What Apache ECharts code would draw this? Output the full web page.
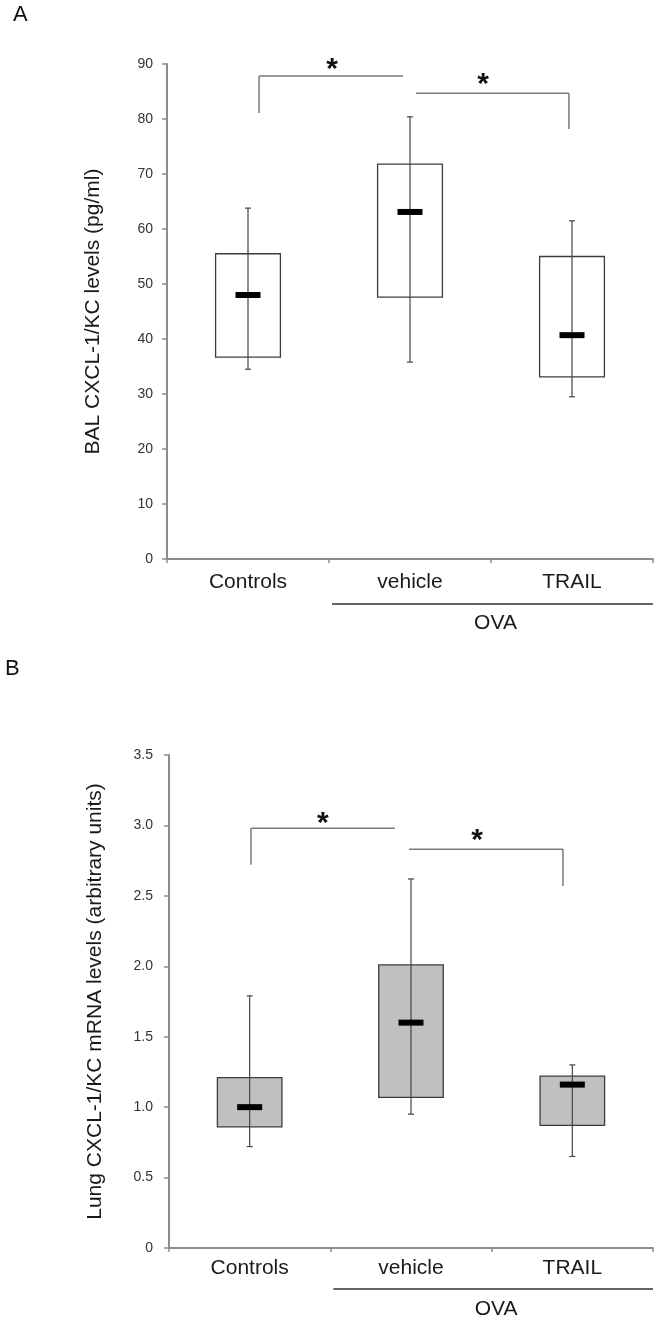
<!DOCTYPE html>
<html><head><meta charset="utf-8">
<script src="https://cdn.jsdelivr.net/npm/echarts@6/dist/echarts.min.js"></script>
<style>html,body{margin:0;padding:0;background:#fff}#c{width:660px;height:1324px}</style>
</head><body><div id="c"></div>
<script>
// ---- data ----
const categories = ['Controls', 'vehicle', 'TRAIL'];
const groupLabel = 'OVA';
const groupSpan = [1, 2]; // category indices covered by the OVA group
// Panel A – BAL CXCL-1/KC (pg/ml): [low, q1, median, q3, high]
const balStats = [
  [34.5, 36.7, 48.0, 55.5, 63.8],
  [35.8, 47.6, 63.1, 71.8, 80.4],
  [29.5, 33.1, 40.7, 55.0, 61.5]
];
const balTicks = ['0', '10', '20', '30', '40', '50', '60', '70', '80', '90'];
// Panel B – Lung CXCL-1/KC mRNA (arbitrary units)
const lungStats = [
  [0.72, 0.86, 1.00, 1.21, 1.79],
  [0.95, 1.07, 1.60, 2.01, 2.62],
  [0.65, 0.87, 1.16, 1.22, 1.30]
];
const lungTicks = ['0', '0.5', '1.0', '1.5', '2.0', '2.5', '3.0', '3.5'];
// significance brackets: [xStart, xEnd, yLine, yLeftDrop, yRightDrop] (x in category units, 0 = Controls)
const balBrackets = [[0.068, 0.957, 87.8, 81.1, null], [1.037, 1.981, 84.7, null, 78.2]];
const balStars = [[0.519, 90.2], [1.451, 87.5]];
const lungBrackets = [[0.008, 0.900, 2.98, 2.72, null], [0.988, 1.942, 2.83, null, 2.57]];
const lungStars = [[0.454, 3.06], [1.410, 2.94]];

// ---- rendering ----
const FONT = 'Liberation Sans, Arial, sans-serif';
const chart = echarts.init(document.getElementById('c'), null, {renderer: 'canvas'});

function boxRenderer(fill) {
  return function (params, api) {
    const i = api.value(0);
    const lo = api.coord([i, api.value(1)]);
    const q1 = api.coord([i, api.value(2)]);
    const md = api.coord([i, api.value(3)]);
    const q3 = api.coord([i, api.value(4)]);
    const hi = api.coord([i, api.value(5)]);
    const band = api.size([1, 0])[0];
    const bw = band * 0.4;
    const cx = lo[0];
    const cap = 3;
    return {
      type: 'group', children: [
        {type: 'rect', shape: {x: cx - bw / 2, y: q3[1], width: bw, height: q1[1] - q3[1]},
          style: {fill: fill, stroke: '#3c3c3c', lineWidth: 1.3}},
        {type: 'line', shape: {x1: cx, y1: hi[1], x2: cx, y2: lo[1]}, style: {stroke: '#444', lineWidth: 1.2}},
        {type: 'line', shape: {x1: cx - cap, y1: hi[1], x2: cx + cap, y2: hi[1]}, style: {stroke: '#444', lineWidth: 1.2}},
        {type: 'line', shape: {x1: cx - cap, y1: lo[1], x2: cx + cap, y2: lo[1]}, style: {stroke: '#444', lineWidth: 1.2}},
        {type: 'rect', shape: {x: cx - 12.5, y: md[1] - 3, width: 25, height: 6}, style: {fill: '#000'}}
      ]
    };
  };
}

function bracketRenderer(brackets) {
  return function (params, api) {
    const b = brackets[params.dataIndex];
    const band = api.size([1, 0])[0];
    const x0 = api.coord([0, b[2]])[0];
    const xa = x0 + b[0] * band, xb = x0 + b[1] * band;
    const yl = api.coord([0, b[2]])[1];
    const ch = [{type: 'line', shape: {x1: xa, y1: yl, x2: xb, y2: yl}, style: {stroke: '#7a7a7a', lineWidth: 1.5}}];
    if (b[3] != null) {
      const yd = api.coord([0, b[3]])[1];
      ch.push({type: 'line', shape: {x1: xa, y1: yl, x2: xa, y2: yd}, style: {stroke: '#7a7a7a', lineWidth: 1.5}});
    }
    if (b[4] != null) {
      const yd = api.coord([0, b[4]])[1];
      ch.push({type: 'line', shape: {x1: xb, y1: yl, x2: xb, y2: yd}, style: {stroke: '#7a7a7a', lineWidth: 1.5}});
    }
    return {type: 'group', children: ch};
  };
}

function starRenderer(stars) {
  return function (params, api) {
    const s = stars[params.dataIndex];
    const band = api.size([1, 0])[0];
    const p = api.coord([0, s[1]]);
    return {type: 'text', style: {text: '*', x: p[0] + s[0] * band, y: p[1] + 7, align: 'center', verticalAlign: 'middle',
      font: 'bold 30px ' + FONT, fill: '#111'}};
  };
}

function groupRenderer(lineOff, textOff) {
  return function (params, api) {
    const band = api.size([1, 0])[0];
    const a = api.coord([groupSpan[0], 0]);
    const b = api.coord([groupSpan[1], 0]);
    const xa = a[0] - band / 2 + 3, xb = b[0] + band / 2;
    return {type: 'group', children: [
      {type: 'line', shape: {x1: xa, y1: a[1] + lineOff, x2: xb, y2: a[1] + lineOff}, style: {stroke: '#333', lineWidth: 1.3}},
      {type: 'text', style: {text: groupLabel, x: (xa + xb) / 2 + 3, y: a[1] + textOff, align: 'center', verticalAlign: 'middle',
        font: '21px ' + FONT, fill: '#1a1a1a'}}
    ]};
  };
}

const axisLineStyle = {color: '#8c8c8c', width: 2};
function xAxis(gi, margin) {
  return {
    type: 'category', gridIndex: gi, data: categories, boundaryGap: true,
    axisLine: {lineStyle: axisLineStyle}, axisTick: {show: true, length: 4, lineStyle: {color: '#8c8c8c', width: 1.5}},
    axisLabel: {fontFamily: FONT, fontSize: 21, color: '#1a1a1a', margin: margin, interval: 0},
    splitLine: {show: false}
  };
}
function yAxis(gi, max, interval, ticks, name, margin) {
  return {
    type: 'value', gridIndex: gi, min: 0, max: max, interval: interval,
    name: name, nameLocation: 'middle', nameGap: 63, nameRotate: 90,
    nameTextStyle: {fontFamily: FONT, fontSize: 21, color: '#1a1a1a'},
    axisLine: {show: true, lineStyle: axisLineStyle},
    axisTick: {show: true, length: 5, lineStyle: {color: '#8c8c8c', width: 1.5}},
    axisLabel: {fontFamily: FONT, fontSize: 14, color: '#333', margin: margin,
      formatter: v => ticks[Math.round(v / interval)]},
    splitLine: {show: false}
  };
}

const option = {
  backgroundColor: '#fff',
  animation: false,
  title: [
    {text: 'A', left: 13, top: 4, padding: 0, textStyle: {fontFamily: FONT, fontSize: 22, fontWeight: 'normal', color: '#111'}},
    {text: 'B', left: 5, top: 658, padding: 0, textStyle: {fontFamily: FONT, fontSize: 22, fontWeight: 'normal', color: '#111'}}
  ],
  grid: [
    {left: 167, right: 7, top: 64, height: 495},
    {left: 169, right: 7, top: 755, height: 493}
  ],
  xAxis: [xAxis(0, 13), xAxis(1, 10)],
  yAxis: [
    yAxis(0, 90, 10, balTicks, 'BAL CXCL-1/KC levels (pg/ml)', 14),
    yAxis(1, 3.5, 0.5, lungTicks, 'Lung CXCL-1/KC mRNA levels (arbitrary units)', 16)
  ],
  series: [
    {type: 'custom', xAxisIndex: 0, yAxisIndex: 0, renderItem: boxRenderer('#ffffff'),
      encode: {x: 0, y: [1, 2, 3, 4, 5]}, data: categories.map((c, i) => [c].concat(balStats[i]))},
    {type: 'custom', xAxisIndex: 1, yAxisIndex: 1, renderItem: boxRenderer('#c0c0c0'),
      encode: {x: 0, y: [1, 2, 3, 4, 5]}, data: categories.map((c, i) => [c].concat(lungStats[i]))},
    {type: 'custom', xAxisIndex: 0, yAxisIndex: 0, renderItem: bracketRenderer(balBrackets),
      encode: {x: 0, y: 1}, data: balBrackets.map(b => [categories[0], b[2]])},
    {type: 'custom', xAxisIndex: 1, yAxisIndex: 1, renderItem: bracketRenderer(lungBrackets),
      encode: {x: 0, y: 1}, data: lungBrackets.map(b => [categories[0], b[2]])},
    {type: 'custom', xAxisIndex: 0, yAxisIndex: 0, renderItem: starRenderer(balStars),
      encode: {x: 0, y: 1}, data: balStars.map(s => [categories[0], s[1]])},
    {type: 'custom', xAxisIndex: 1, yAxisIndex: 1, renderItem: starRenderer(lungStars),
      encode: {x: 0, y: 1}, data: lungStars.map(s => [categories[0], s[1]])},
    {type: 'custom', xAxisIndex: 0, yAxisIndex: 0, renderItem: groupRenderer(45, 64),
      encode: {x: 0, y: 1}, data: [[categories[groupSpan[0]], 0]]},
    {type: 'custom', xAxisIndex: 1, yAxisIndex: 1, renderItem: groupRenderer(41, 61),
      encode: {x: 0, y: 1}, data: [[categories[groupSpan[0]], 0]]}
  ]
};
chart.setOption(option);
</script></body></html>
